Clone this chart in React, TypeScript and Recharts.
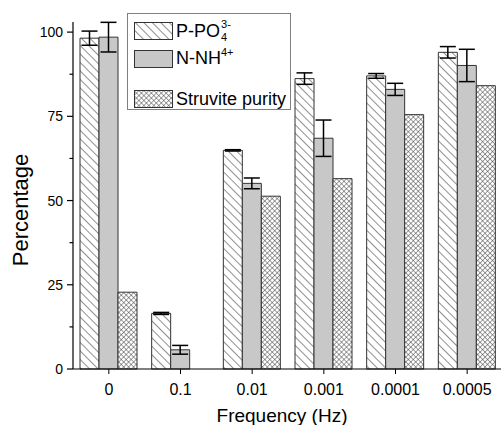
import { BarChart, Bar, XAxis, YAxis, ErrorBar, Legend, Label } from 'recharts'

const categories = ['0', '0.1', '0.01', '0.001', '0.0001', '0.0005']
const phosphate = [98.2, 16.5, 64.9, 86.2, 87.0, 94.0]
const phosphateErr = [2.1, 0.3, 0.2, 1.7, 0.7, 1.7]
const ammonium = [98.5, 5.7, 55.1, 68.5, 83.0, 90.1]
const ammoniumErr = [4.4, 1.3, 1.6, 5.4, 1.8, 4.8]
const purity = [22.8, null, 51.3, 56.5, 75.5, 84.1]
const seriesNames = ['P-PO4', 'N-NH4+', 'Struvite purity']
const yTicks = [0, 12.5, 25, 37.5, 50, 62.5, 75, 87.5, 100]

const data = categories.map((c, i) => ({
  freq: c,
  p: phosphate[i],
  pErr: phosphateErr[i],
  n: ammonium[i],
  nErr: ammoniumErr[i],
  s: purity[i],
}))

const FONT = '"Liberation Sans", Arial, sans-serif'

function Patterns({ prefix }: { prefix: string }) {
  return (
    <defs>
      <pattern id={`${prefix}-hatch`} width="6" height="6" patternUnits="userSpaceOnUse" patternTransform="rotate(-45)">
        <rect width="6" height="6" fill="#fff" />
        <line x1="0" y1="0" x2="0" y2="6" stroke="#222" strokeWidth="1" />
      </pattern>
      <pattern id={`${prefix}-cross`} width="3.5" height="3.5" patternUnits="userSpaceOnUse" patternTransform="rotate(45)">
        <rect width="3.5" height="3.5" fill="#fff" />
        <line x1="0" y1="0" x2="0" y2="3.5" stroke="#444" strokeWidth="1" />
        <line x1="0" y1="0" x2="3.5" y2="0" stroke="#444" strokeWidth="1" />
      </pattern>
    </defs>
  )
}

function YTick({ x, y, payload }: any) {
  const axisX = x + 8
  const major = payload.value % 25 === 0
  return (
    <g>
      <line x1={axisX} x2={axisX - (major ? 6 : 3.5)} y1={y} y2={y} stroke="#000" strokeWidth={1.2} />
      {major && (
        <text x={axisX - 10} y={y} dy="0.36em" textAnchor="end" fontSize={14} fontFamily={FONT} fill="#000">
          {payload.value}
        </text>
      )}
    </g>
  )
}

const fills = ['url(#c-hatch)', '#c8c8c8', 'url(#c-cross)']
const swatchFills = ['url(#l-hatch)', '#c8c8c8', 'url(#l-cross)']
const rowTops = [8, 36, 76]

function legendText(name: string) {
  if (name === 'P-PO4') {
    return (
      <span style={{ display: 'inline-flex', alignItems: 'center' }}>
        P-PO
        <span style={{ display: 'inline-flex', flexDirection: 'column', fontSize: 11, lineHeight: 1, marginLeft: 1 }}>
          <span style={{ position: 'relative', top: -1 }}>3-</span>
          <span style={{ position: 'relative', top: 1 }}>4</span>
        </span>
      </span>
    )
  }
  if (name === 'N-NH4+') {
    return (
      <span>
        N-NH<span style={{ fontSize: 11, position: 'relative', top: -8 }}>4+</span>
      </span>
    )
  }
  return <span>{name}</span>
}

function LegendBox({ payload }: any) {
  return (
    <div
      style={{
        width: 164,
        height: 97,
        border: '1px solid #808080',
        background: '#fff',
        position: 'relative',
        boxSizing: 'border-box',
        fontFamily: FONT,
        fontSize: 18,
        color: '#000',
      }}
    >
      {(payload || []).map((entry: any) => {
        const i = seriesNames.indexOf(entry.value)
        return (
          <div key={entry.value} style={{ position: 'absolute', left: 6, top: rowTops[i], display: 'flex', alignItems: 'center', height: 18 }}>
            <svg width={39} height={18} style={{ display: 'block' }}>
              <Patterns prefix="l" />
              <rect x={0.5} y={0.5} width={38} height={17} fill={swatchFills[i]} stroke="#333" strokeWidth={1} />
            </svg>
            <div style={{ marginLeft: 3, whiteSpace: 'nowrap', lineHeight: '18px' }}>{legendText(entry.value)}</div>
          </div>
        )
      })}
    </div>
  )
}

export default function App() {
  return (
    <div style={{ position: 'absolute', left: 0, top: 0, width: 501, height: 425, background: '#fff' }}>
      <BarChart
        width={501}
        height={425}
        data={data}
        margin={{ top: 22, right: -2, left: 0, bottom: 0 }}
        barGap={0}
        barSize={19}
      >
        <Patterns prefix="c" />
        <XAxis
          dataKey="freq"
          height={56}
          tickSize={5}
          tickMargin={10}
          stroke="#000"
          axisLine={{ stroke: '#000', strokeWidth: 1.2 }}
          tick={{ fontSize: 16, fontFamily: FONT, fill: '#000' }}
        >
          <Label
            content={({ viewBox }: any) => (
              <text x={viewBox.x + 209} y={viewBox.y + 53} textAnchor="middle" fontSize={19} fontFamily={FONT} fill="#000">
                Frequency (Hz)
              </text>
            )}
          />
        </XAxis>
        <YAxis
          width={73}
          domain={[0, 103]}
          ticks={yTicks}
          interval={0}
          tickSize={6}
          tickMargin={2}
          tickLine={false}
          axisLine={{ stroke: '#000', strokeWidth: 1.2 }}
          tick={<YTick />}
        >
          <Label
            content={({ viewBox }: any) => {
              const x = viewBox.x + 28
              const y = viewBox.y + 188
              return (
                <text x={x} y={y} transform={`rotate(-90 ${x} ${y})`} textAnchor="middle" fontSize={22} fontFamily={FONT} fill="#000">
                  Percentage
                </text>
              )
            }}
          />
        </YAxis>
        <Legend
          layout="vertical"
          align="center"
          verticalAlign="middle"
          wrapperStyle={{ left: 127, top: 13, width: 164, height: 97 }}
          content={<LegendBox />}
        />
        <Bar dataKey="p" name={seriesNames[0]} fill={fills[0]} stroke="#333" strokeWidth={1} isAnimationActive={false}>
          <ErrorBar dataKey="pErr" width={8} strokeWidth={1.5} stroke="#000" direction="y" isAnimationActive={false} />
        </Bar>
        <Bar dataKey="n" name={seriesNames[1]} fill={fills[1]} stroke="#333" strokeWidth={1} isAnimationActive={false}>
          <ErrorBar dataKey="nErr" width={8} strokeWidth={1.5} stroke="#000" direction="y" isAnimationActive={false} />
        </Bar>
        <Bar dataKey="s" name={seriesNames[2]} fill={fills[2]} stroke="#333" strokeWidth={1} isAnimationActive={false} />
      </BarChart>
    </div>
  )
}
